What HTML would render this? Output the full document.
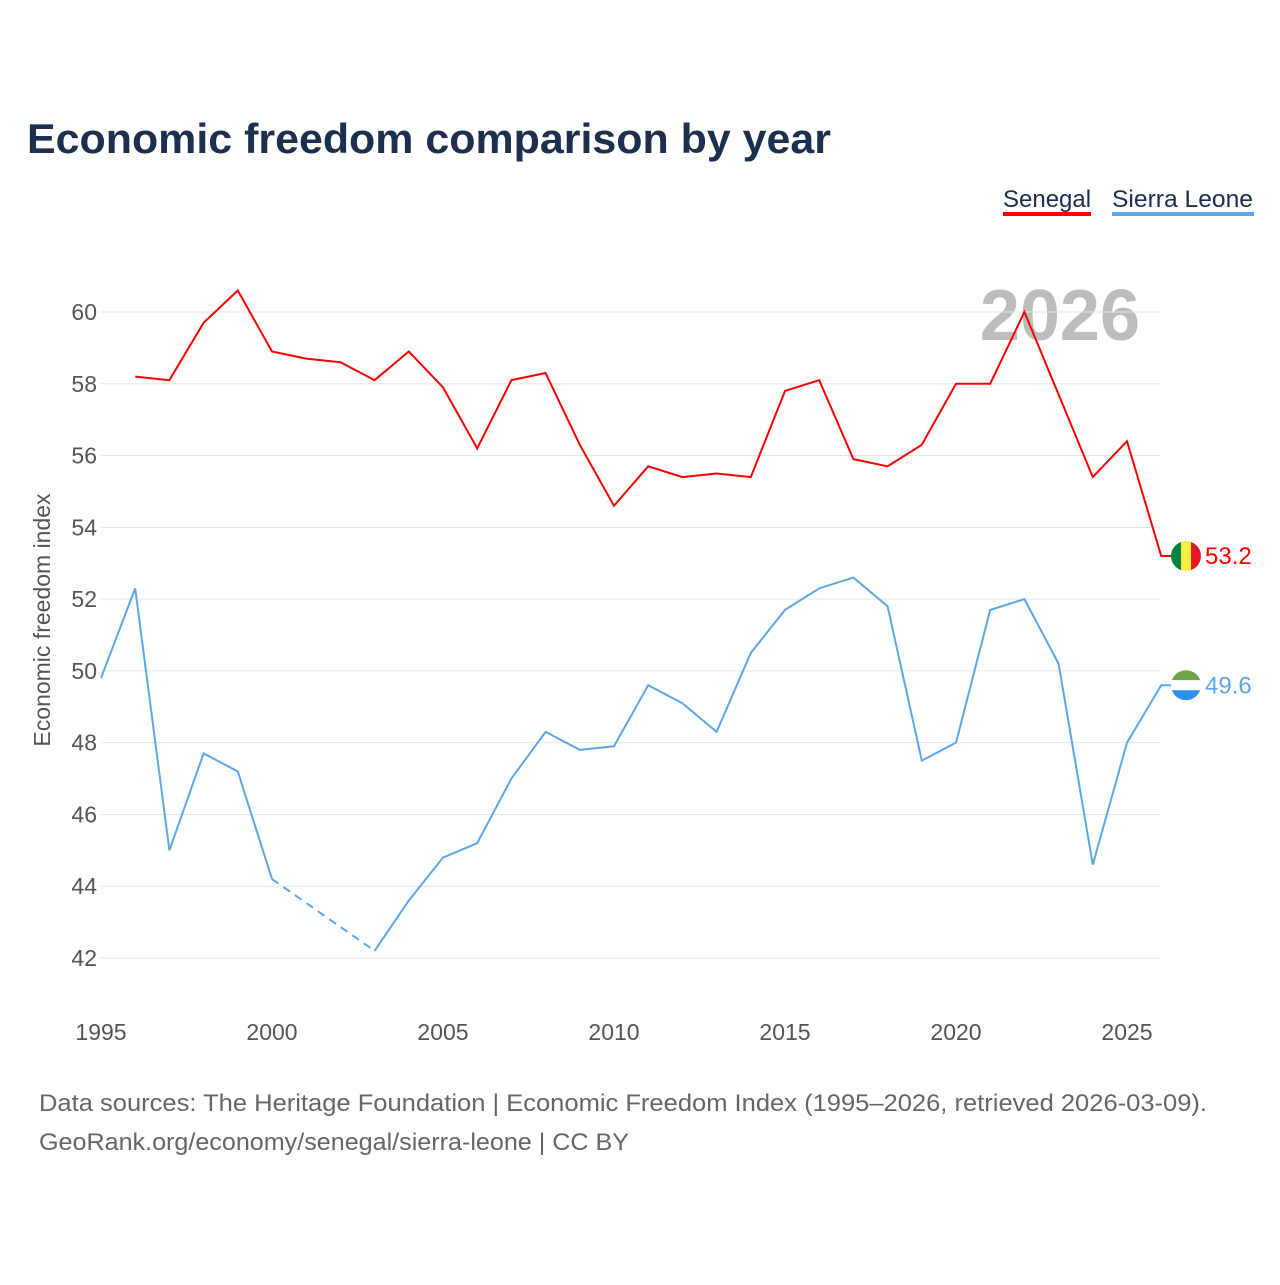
<!DOCTYPE html>
<html><head><meta charset="utf-8"><style>
body{margin:0;background:#fff;width:1280px;height:1280px;overflow:hidden;font-family:"Liberation Sans",sans-serif}
</style></head><body>
<svg id="chart" width="1280" height="1280" xmlns="http://www.w3.org/2000/svg">
<text x="27" y="153" font-size="42" font-weight="bold" fill="#1b2f4e" textLength="804" lengthAdjust="spacingAndGlyphs">Economic freedom comparison by year</text>
<g><text x="1003" y="207" font-size="24" fill="#1b2f4e">Senegal</text><rect x="1003" y="212" width="88" height="4" fill="#ff0000"/></g>
<g><text x="1112" y="207" font-size="24" fill="#1b2f4e" textLength="141" lengthAdjust="spacingAndGlyphs">Sierra Leone</text><rect x="1112" y="212" width="142" height="4" fill="#5ea6ea"/></g>
<text x="1140" y="340" text-anchor="end" font-size="72" font-weight="bold" fill="#bdbdbd">2026</text>
<text transform="translate(50,620) rotate(-90)" text-anchor="middle" font-size="23" fill="#555">Economic freedom index</text>
<g id="grid"></g><g id="lines"></g>
<text x="39" y="1111" font-size="24" fill="#666" textLength="1168" lengthAdjust="spacingAndGlyphs">Data sources: The Heritage Foundation | Economic Freedom Index (1995–2026, retrieved 2026-03-09).</text>
<text x="39" y="1150" font-size="24" fill="#666" textLength="590" lengthAdjust="spacingAndGlyphs">GeoRank.org/economy/senegal/sierra-leone | CC BY</text>
</svg>
<script>
const years=[1995,1996,1997,1998,1999,2000,2001,2002,2003,2004,2005,2006,2007,2008,2009,2010,2011,2012,2013,2014,2015,2016,2017,2018,2019,2020,2021,2022,2023,2024,2025,2026];
const senegal=[null,58.2,58.1,59.7,60.6,58.9,58.7,58.6,58.1,58.9,57.9,56.2,58.1,58.3,56.3,54.6,55.7,55.4,55.5,55.4,57.8,58.1,55.9,55.7,56.3,58.0,58.0,60.0,57.7,55.4,56.4,53.2];
const sierra=[49.8,52.3,45.0,47.7,47.2,44.2,null,null,42.2,43.6,44.8,45.2,47.0,48.3,47.8,47.9,49.6,49.1,48.3,50.5,51.7,52.3,52.6,51.8,47.5,48.0,51.7,52.0,50.2,44.6,48.0,49.6];
const yTicks=[42,44,46,48,50,52,54,56,58,60];
const xTicks=[1995,2000,2005,2010,2015,2020,2025];
const NS='http://www.w3.org/2000/svg';
const X=y=>101+(y-1995)*34.2;
const Y=v=>312+(60-v)*35.89;
function mk(t,a,p){const e=document.createElementNS(NS,t);for(const k in a)e.setAttribute(k,a[k]);p.appendChild(e);return e;}
const g=document.getElementById('grid'),L=document.getElementById('lines');
yTicks.forEach(v=>{const l=mk('line',{x1:101,x2:1161,y1:Y(v),y2:Y(v),stroke:'#e6e6e6','stroke-width':1},g);


const t=mk('text',{x:97,y:Y(v)+8,'text-anchor':'end','font-size':23,fill:'#555'},g);t.textContent=v;

});
xTicks.forEach(v=>{const t=mk('text',{x:X(v),y:1040,'text-anchor':'middle','font-size':23,fill:'#555'},g);t.textContent=v;

});
function draw(vals,color,name){
 let segs=[],cur=[],last=null;
 vals.forEach((v,i)=>{if(v==null){if(cur.length)segs.push(cur);cur=[];}else{
  if(!cur.length&&last!=null){const d=mk('path',{d:`M${X(years[last])},${Y(vals[last])}L${X(years[i])},${Y(v)}`,stroke:color,'stroke-width':2,fill:'none','stroke-dasharray':'8,6'},L);
  
  }
  cur.push([X(years[i]),Y(v)]);last=i;}});
 if(cur.length)segs.push(cur);
 const lv=vals[vals.length-1],ly=Y(lv);
 segs[segs.length-1].push([1172,ly]);
 segs.forEach(s=>{const p=mk('path',{d:'M'+s.map(q=>q.join(',')).join('L'),stroke:color,'stroke-width':2,fill:'none'},L);
 
 });
 const t=mk('text',{x:1205,y:ly+8,'font-size':24,fill:color},L);t.textContent=lv.toFixed(1);
 
 
 return ly;
}
const sy=draw(senegal,'#ff0000','senegal');
const ly=draw(sierra,'#5ea6ea','sierra-leone');
const f1=mk('g',{},L);


mk('clipPath',{id:'c1'},f1).appendChild(document.createElementNS(NS,'circle')).setAttribute('r',15);
document.querySelector('#c1 circle').setAttribute('cx',1186);document.querySelector('#c1 circle').setAttribute('cy',sy);
mk('rect',{x:1171,y:sy-15,width:10,height:30,fill:'#00853f','clip-path':'url(#c1)'},f1);
mk('rect',{x:1181,y:sy-15,width:10,height:30,fill:'#fdef42','clip-path':'url(#c1)'},f1);
mk('rect',{x:1191,y:sy-15,width:10,height:30,fill:'#e31b23','clip-path':'url(#c1)'},f1);
const f2=mk('g',{},L);


mk('clipPath',{id:'c2'},f2).appendChild(document.createElementNS(NS,'circle'));
const c2=document.querySelector('#c2 circle');c2.setAttribute('r',15);c2.setAttribute('cx',1186);c2.setAttribute('cy',ly);
mk('rect',{x:1171,y:ly-15,width:30,height:10,fill:'#6ea347','clip-path':'url(#c2)'},f2);
mk('rect',{x:1171,y:ly-5,width:30,height:10,fill:'#ffffff','clip-path':'url(#c2)'},f2);
mk('rect',{x:1171,y:ly+5,width:30,height:10,fill:'#2f8ff0','clip-path':'url(#c2)'},f2);
</script>
</body></html>
